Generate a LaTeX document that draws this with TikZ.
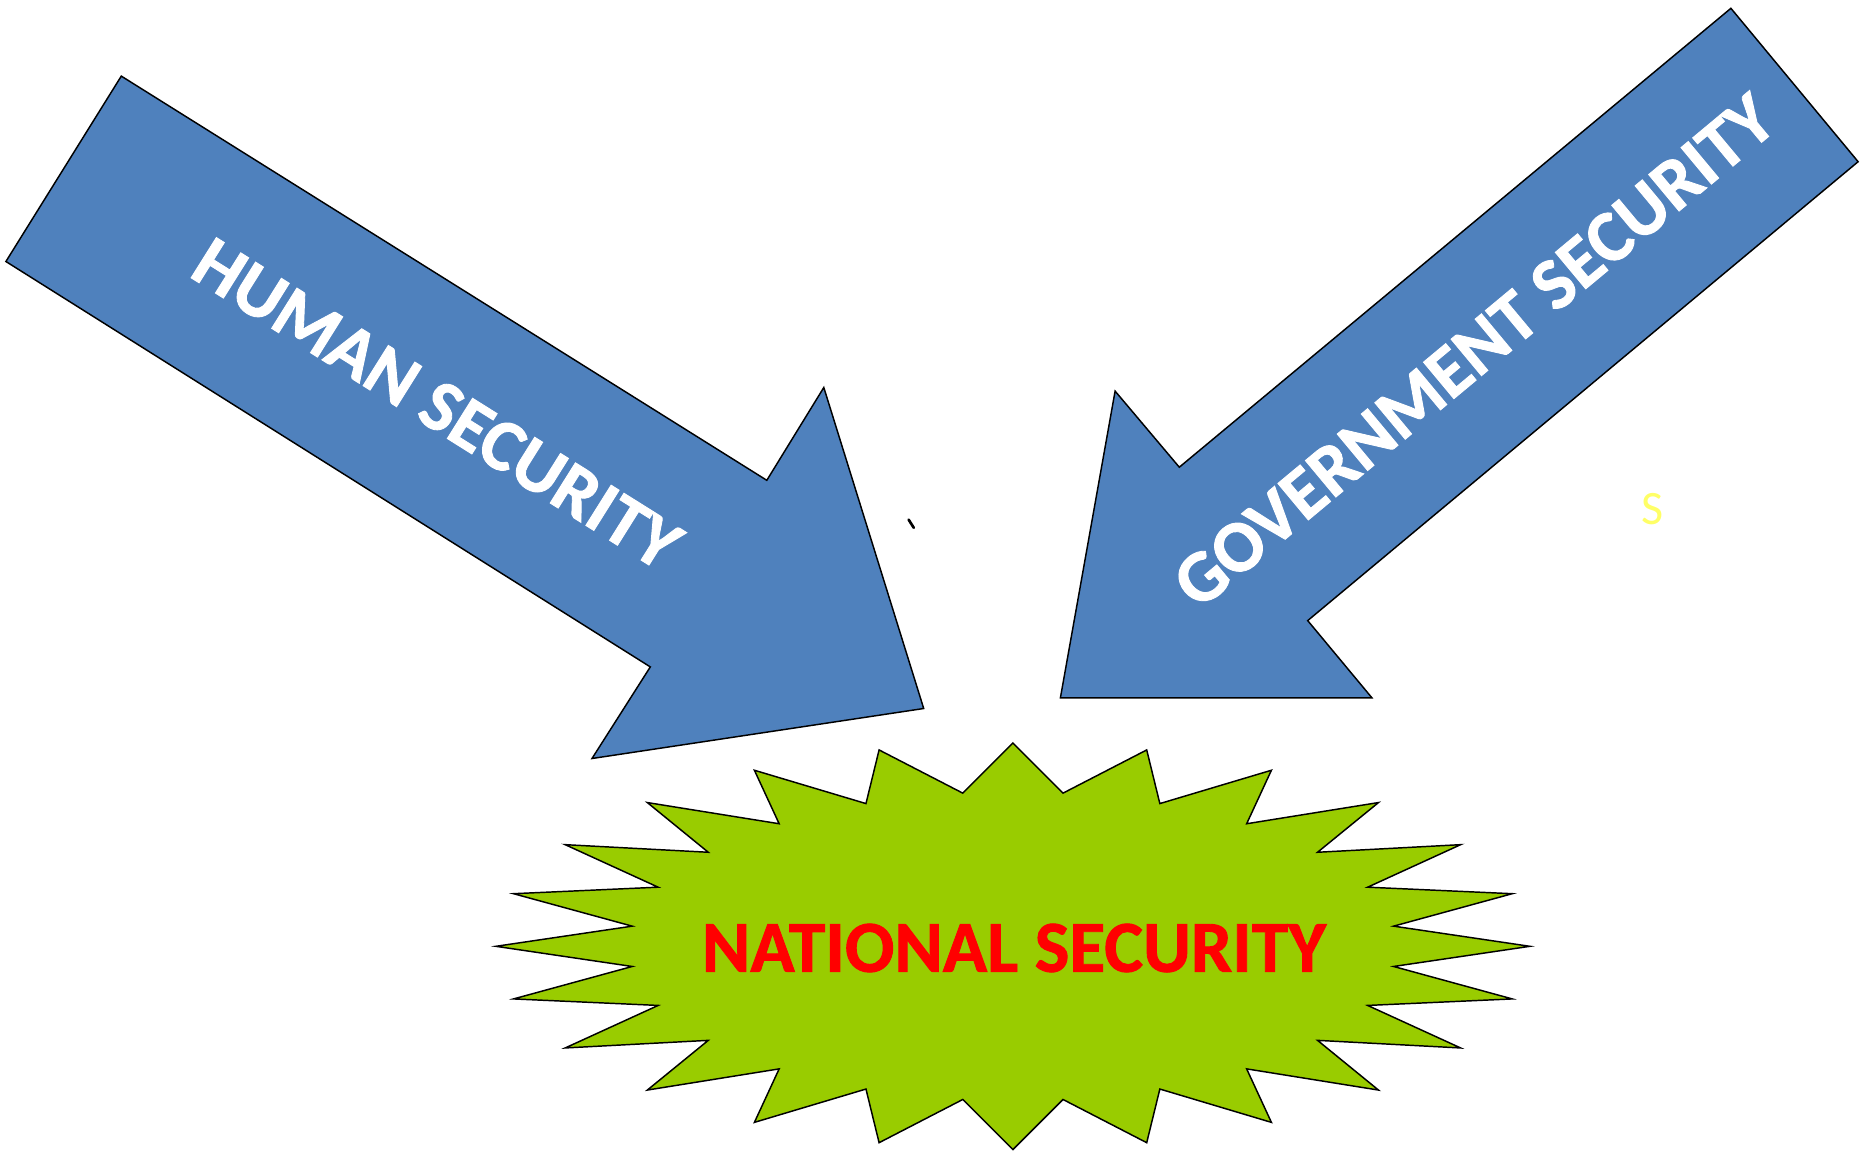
\documentclass[tikz,border=0pt]{standalone}
\usepackage{fontspec}
\setmainfont{Carlito}
\newfontfamily\heavyfont{Carlito Bold}[FakeBold=1.2]
\usepackage{xcolor}
\usepackage{tikz}
\definecolor{arrowblue}{RGB}{79,129,189}
\definecolor{burstgreen}{RGB}{153,204,0}
\definecolor{labelred}{RGB}{255,0,0}
\definecolor{paleyellow}{RGB}{255,255,102}

\begin{document}
\begin{tikzpicture}[x=0.75pt,y=0.75pt,yscale=-1,xscale=1,
    bigarrow/.style={draw=black,fill=arrowblue,line width=1.1pt,line join=miter},
    burst/.style={draw=black,fill=burstgreen,line width=1.1pt,line join=miter},
    arrowtext/.style={text=white,font=\fontsize{55}{66}\heavyfont,inner sep=0pt},
    centertext/.style={text=labelred,font=\fontsize{55}{66}\heavyfont,inner sep=0pt}]
  \useasboundingbox (0,0) rectangle (1864,1154);
  % left arrow
  \draw [bigarrow] (121.3,76.1) -- (766.8,480.3) -- (823.8,387.5) -- (923.7,708.5) -- (592,758.5) -- (650.3,666.9) -- (5.9,261.5) -- cycle;
  % right arrow
  \draw [bigarrow] (1730.9,8.3) -- (1858.1,161.7) -- (1307.7,620.6) -- (1371.9,697.8) -- (1060.4,697.8) -- (1115.1,391.1) -- (1179.3,467.2) -- cycle;
  % star
  \begin{scope}[shift={(1012.9,946.3)}]
    \draw [burst] (0:517 and 203.3) \foreach \k in {0,...,23} { -- ({\k*15+7.5}:384 and 154.5) -- ({\k*15+15}:517 and 203.3)} -- cycle;
  \end{scope}
  % labels
  \draw (437,404) node [arrowtext, rotate=-32.1] (humanlbl) {HUMAN SECURITY};
  \draw (1474,351) node [arrowtext, rotate=39.8] (govlbl) {GOVERNMENT SECURITY};
  \draw (1014,948) node [centertext] (nationallbl) {NATIONAL SECURITY};
  \draw (1652.7,508.7) node [text=paleyellow, font=\fontsize{36}{43}\selectfont, inner sep=0pt] (strayS) {S};
  % stray mark
  \draw [line width=2pt, line cap=round] (908.6,519.6) -- (913.8,527.8);
\end{tikzpicture}
\end{document}
